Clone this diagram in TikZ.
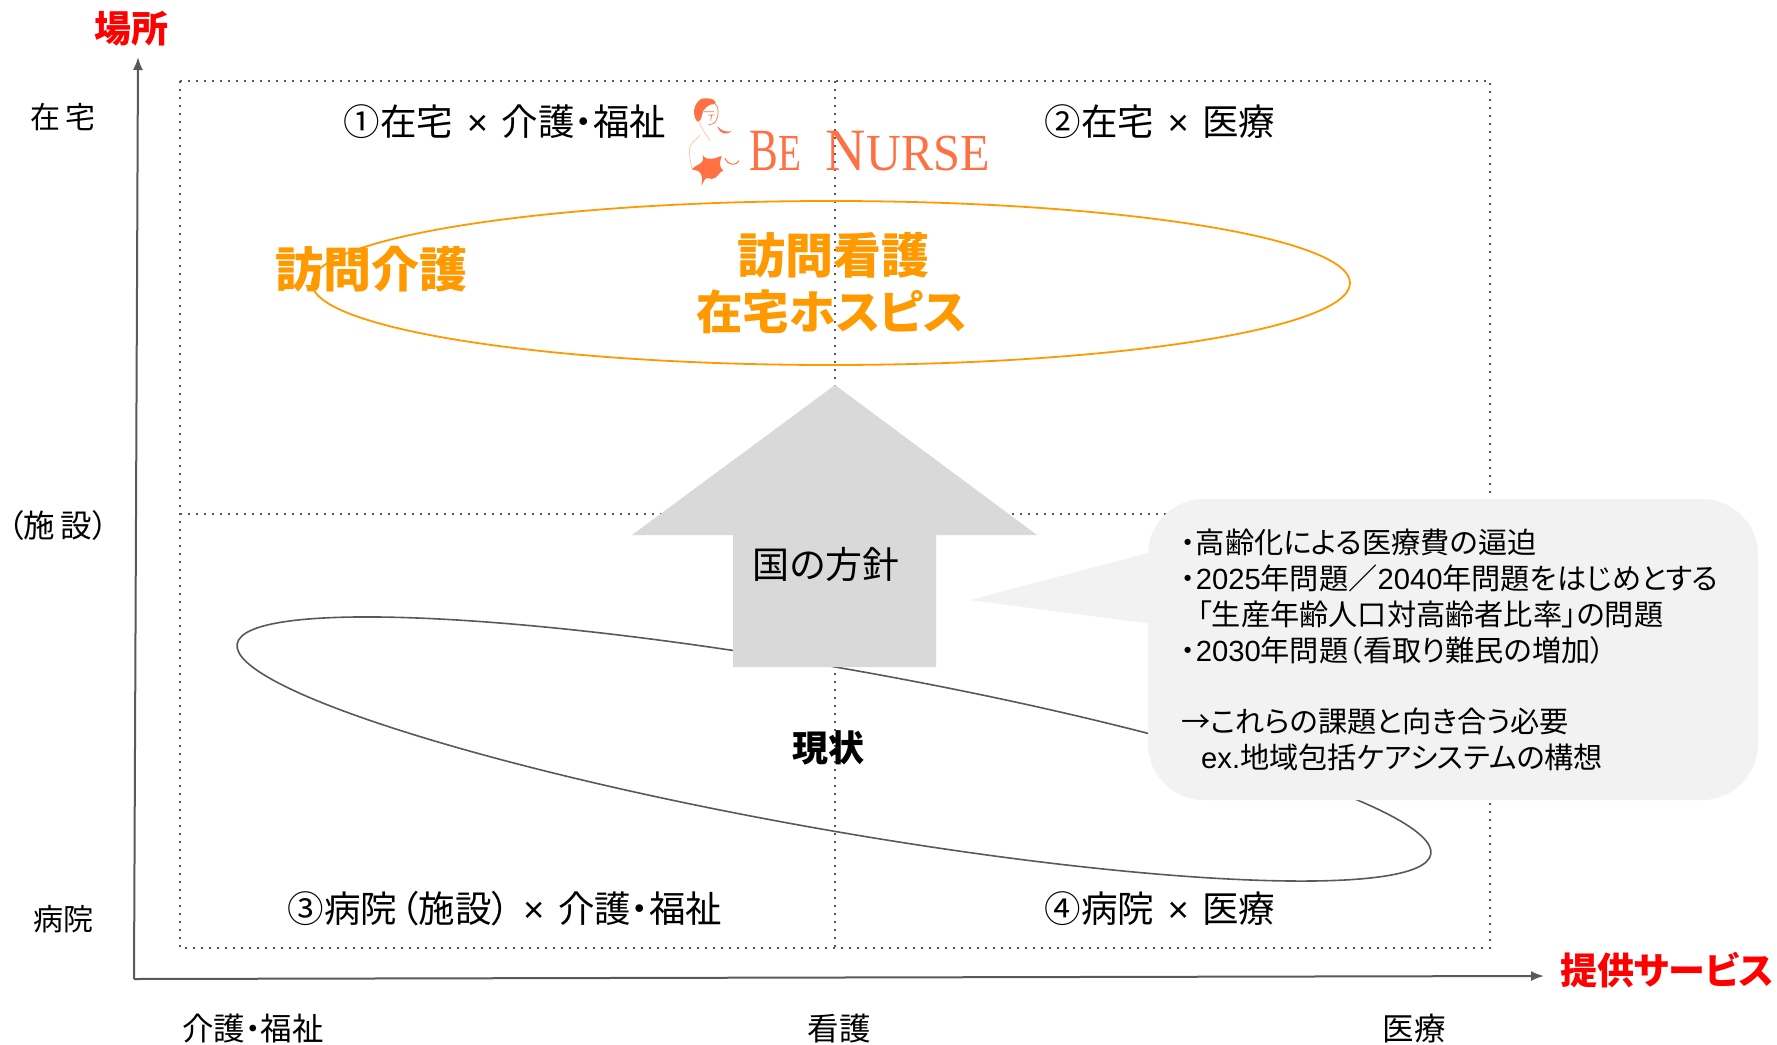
\documentclass[tikz,border=0pt]{standalone}
\usepackage{fontspec}
\usetikzlibrary{arrows.meta}
\setmainfont[RawFeature={+palt}]{Noto Sans CJK JP}
\newfontfamily\latnfont{Liberation Sans}
\newfontfamily\logofont[FakeStretch=0.72]{Liberation Serif}
\newfontfamily\logofontw[FakeStretch=0.93]{Liberation Serif}
\newcommand{\lat}[1]{{\latnfont #1}}
\newcommand{\fsz}[1]{\fontsize{#1}{#1}\selectfont}
\newcommand{\bytimes}{\hspace{13.5pt}{\latnfont ×}\hspace{13.5pt}}
\definecolor{axisgray}{HTML}{595959}
\definecolor{arrowgray}{HTML}{D9D9D9}
\definecolor{notegray}{HTML}{F2F2F2}
\definecolor{planorange}{HTML}{FF9900}
\definecolor{logoorange}{HTML}{FF7043}
\tikzset{
  x=1pt,y=-1pt,
  axisline/.style={draw=axisgray,line width=2pt,-{Latex[length=13pt,width=10pt]}},
  gridline/.style={draw=axisgray,line width=2pt,dash pattern=on 2pt off 6pt},
  quad/.style={inner sep=0pt,font=\fsz{36.5}},
  axlabel/.style={inner sep=0pt,font=\fsz{31.5}},
  redlabel/.style={inner sep=0pt,text=red,font=\fsz{37}\bfseries},
  planlabel/.style={inner sep=0pt,text=planorange,font=\fsz{48}\bfseries},
}
\begin{document}
\begin{tikzpicture}
\useasboundingbox (0,0) rectangle (1777,1044);
\fill[white] (0,0) rectangle (1777,1044);
% dotted matrix
\draw[gridline] (180,81) rectangle (1490,948);
\draw[gridline] (835,81) -- (835,948);
\draw[gridline] (180,514) -- (1490,514);
% axes
\coordinate (origin) at (134,979);
\coordinate (ytip) at (138,57);
\coordinate (xtip) at (1544,976);
\draw[axisline] (origin) -- (ytip);
\draw[axisline] (origin) -- (xtip);
% ellipses
\draw[draw=axisgray,line width=1.6pt,rotate around={-10:(834,749)}]
  (834,749) ellipse [x radius=606pt,y radius=81pt];
\draw[draw=planorange,line width=1.8pt] (831,283) ellipse [x radius=519pt,y radius=82pt];
% policy arrow
\fill[arrowgray] (835,385) -- (1037,535) -- (936,535) -- (936,667) -- (733,667) -- (733,535) -- (632,535) -- cycle;
\node[inner sep=0pt,font=\fsz{37}] (policy) at (826,564) {国の方針};
% callout
\fill[notegray,rounded corners=56pt] (1148,499) rectangle (1758,800);
\fill[notegray] (970,600) -- (1152,552) -- (1152,624) -- cycle;
\node[anchor=west,inner sep=0pt,align=left,font=\fontsize{29.2}{35.8}\selectfont] (note) at (1181,650) {%
・高齢化による医療費の逼迫\\
・\lat{2025}年問題／\lat{2040}年問題をはじめとする\\
\hspace*{16pt}「生産年齢人口対高齢者比率」の問題\\
・\lat{2030}年問題（看取り難民の増加）\\
\mbox{}\\
→これらの課題と向き合う必要\\
\hspace*{20pt}\lat{ex.}地域包括ケアシステムの構想};
% labels
\node[redlabel] (ylab) at (131,29) {場所};
\node[redlabel] (xlab) at (1667,970) {提供サービス};
\node[inner sep=0pt,font=\fsz{30}] (y1) at (63,117) {在\,宅};
\node[axlabel] (y2) at (58,526) {（施\,設）};
\node[inner sep=0pt,font=\fsz{30}] (y3) at (63,919) {病院};
\node[axlabel] (x1) at (253,1029) {介護・福祉};
\node[axlabel] (x2) at (839,1029) {看護};
\node[axlabel] (x3) at (1414,1029) {医療};
\node[quad] (q1) at (505,122) {①在宅\bytimes{}介護・福祉};
\node[quad] (q2) at (1160,122) {②在宅\bytimes{}医療};
\node[quad] (q3) at (505,909) {③病院\hspace{3pt}（施設）\bytimes{}介護・福祉};
\node[quad] (q4) at (1160,909) {④病院\bytimes{}医療};
\node[planlabel] (p1) at (371,269) {訪問介護};
\node[planlabel] (p2) at (833,255) {訪問看護};
\node[planlabel,font=\fsz{46.5}\bfseries] (p3) at (832,312) {在宅ホスピス};
\node[inner sep=0pt,font=\fsz{36}\bfseries] (now) at (828,748) {現状};
% logo
\node[anchor=base west,inner sep=0pt,text=logoorange] (logo) at (749,170)
  {\logofont\fsz{60}B\fsz{52}E\hspace{25pt}\logofontw\fsz{60}N\fsz{52}URSE};
\begin{scope}[x=.3333pt,y=-.3333pt,shift={(640pt,-70pt)}]
  \fill[logoorange] (185,86) .. controls (215,82) and (232,92) .. (226,102)
    .. controls (205,100) and (188,118) .. (186,135) .. controls (185,145) and (180,155) .. (172,155)
    .. controls (155,135) and (160,100) .. (185,86) -- cycle;
  \fill[logoorange] (232,168) .. controls (245,185) and (260,186) .. (275,184)
    .. controls (262,194) and (240,196) .. (232,168) -- cycle;
  \draw[logoorange,line width=.7pt] (226,102) .. controls (240,115) and (235,150) .. (222,160) -- (205,165);
  \draw[logoorange,line width=.7pt] (192,125) -- (222,125) (205,135) -- (222,135) (215,135) -- (212,152);
  \draw[logoorange!45,line width=.7pt] (178,155) .. controls (185,180) and (200,195) .. (210,212)
    (180,195) .. controls (165,215) and (148,220) .. (148,240) .. controls (148,260) and (152,280) .. (156,295);
  \fill[logoorange] (155,298) .. controls (175,278) and (195,285) .. (188,255)
    .. controls (200,275) and (225,265) .. (245,258) .. controls (240,275) and (235,290) .. (250,302)
    .. controls (235,305) and (235,325) .. (215,327) .. controls (195,320) and (195,325) .. (185,347)
    .. controls (185,325) and (190,315) .. (175,303) .. controls (170,300) and (162,302) .. (155,298) -- cycle;
  \draw[logoorange,line width=1pt] (255,265) .. controls (265,285) and (285,290) .. (297,272);
\end{scope}
\end{tikzpicture}
\end{document}
